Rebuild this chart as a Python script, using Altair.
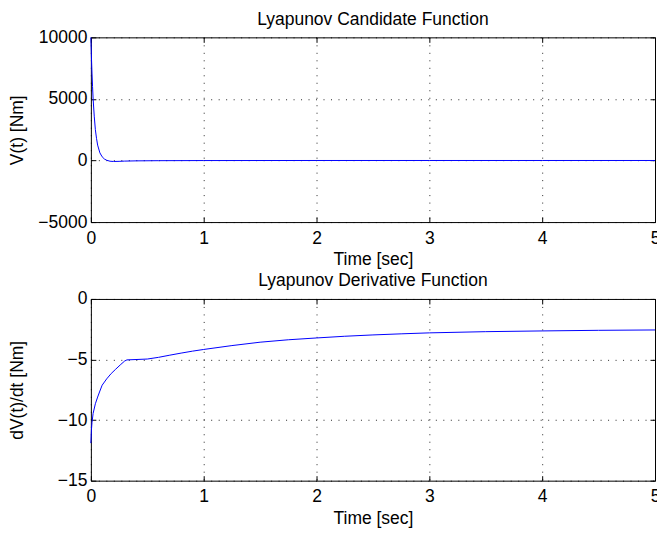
import altair as alt
import pandas as pd

# ---- data ----
x_ticks = [0, 1, 2, 3, 4, 5]

# Lyapunov candidate function V(t)
t_v = [0, 0.005, 0.01, 0.015, 0.02, 0.03, 0.04, 0.05, 0.06, 0.08, 0.10, 0.12,
       0.14, 0.17, 0.20, 0.25, 0.30, 0.40, 0.60, 1.0, 2.0, 3.0, 4.0, 5.0]
v_vals = [10000, 8400, 7100, 6000, 5000, 3600, 2500, 1800, 1250, 620, 300, 120,
          20, -60, -80, -70, -50, -30, -15, -5, 0, 0, 0, 0]
v_ticks = [-5000, 0, 5000, 10000]

# Lyapunov derivative dV/dt
t_d = [0, 0.005, 0.01, 0.02, 0.04, 0.06, 0.08, 0.10, 0.14, 0.18, 0.22, 0.26,
       0.30, 0.32, 0.40, 0.50, 0.60, 0.70, 0.80, 0.90, 1.0, 1.25, 1.5, 1.75,
       2.0, 2.25, 2.5, 2.75, 3.0, 3.5, 4.0, 4.5, 5.0]
d_vals = [-11.9, -10.8, -10.2, -9.45, -8.65, -8.1, -7.6, -7.12, -6.6, -6.16,
          -5.8, -5.45, -5.12, -5.03, -5.0, -4.96, -4.82, -4.64, -4.47, -4.31,
          -4.17, -3.85, -3.57, -3.37, -3.22, -3.08, -2.97, -2.88, -2.80, -2.70,
          -2.64, -2.59, -2.56]
d_ticks = [-15, -10, -5, 0]

FONT = "Liberation Sans"
FS = 17.5
W = 565


def panel(t, vals, title, ytitle, ydomain, yticks, H):
    df = pd.DataFrame({"t": t, "v": vals})
    base = alt.Chart(df)
    xs = alt.Scale(domain=[0, 5], nice=False, zero=False)
    ys = alt.Scale(domain=ydomain, nice=False, zero=False)
    line = base.mark_line(color="#0000ff", strokeWidth=1).encode(
        x=alt.X("t:Q", scale=xs, axis=alt.Axis(
            values=x_ticks, title="Time [sec]", grid=True, ticks=False,
            tickSize=0, domain=False, labelPadding=7, titlePadding=4,
            labelFlush=False, labelOverlap=False, format="d")),
        y=alt.Y("v:Q", scale=ys, axis=alt.Axis(
            values=yticks, title=ytitle, grid=True, ticks=False, tickSize=0,
            domain=False, labelPadding=4, format="d", titleX=-68,
            labelFlush=False, labelOverlap=False,
            titleY=H / 2, titleAngle=-90, titleAlign="center",
            titleBaseline="alphabetic")),
    )
    tick_opts = dict(labels=False, grid=False, domain=False, ticks=True,
                     tickSize=5, tickColor="black", title=None)
    t1 = base.mark_line(opacity=0).encode(
        x=alt.X("t:Q", axis=alt.Axis(orient="top", offset=-H,
                                     values=x_ticks, **tick_opts)),
        y=alt.Y("v:Q", axis=alt.Axis(orient="right", offset=-W,
                                     values=yticks, **tick_opts)),
    )
    t2 = base.mark_line(opacity=0).encode(
        x=alt.X("t:Q", axis=alt.Axis(orient="bottom", offset=-H,
                                     values=x_ticks, **tick_opts)),
        y=alt.Y("v:Q", axis=alt.Axis(orient="left", offset=-W,
                                     values=yticks, **tick_opts)),
    )
    return alt.layer(line, t1, t2).resolve_axis(
        x="independent", y="independent"
    ).properties(
        width=W, height=H,
        title=alt.TitleParams(title, fontSize=FS, fontWeight="normal",
                              font=FONT, color="black", anchor="middle",
                              frame="group", baseline="alphabetic", offset=-14),
    )


top = panel(t_v, v_vals, "Lyapunov Candidate Function", "V(t) [Nm]",
            [-5000, 10000], v_ticks, 185)
bottom = panel(t_d, d_vals, "Lyapunov Derivative Function", "dV(t)/dt [Nm]",
               [-15, 0], d_ticks, 182)

chart = alt.vconcat(top, bottom, spacing=3).properties(
    padding={"left": 8, "top": 10, "right": -4, "bottom": 0},
    background="white",
).configure_axis(
    labelFont=FONT, labelFontSize=FS, labelColor="black",
    titleFont=FONT, titleFontSize=FS, titleFontWeight="normal",
    titleColor="black", gridColor="black", gridDash=[1, 6.5],
    gridOpacity=0.85, gridWidth=1,
).configure_view(stroke="black", strokeWidth=1)

chart.save("out.html", embed_options={"renderer": "svg", "actions": False})
